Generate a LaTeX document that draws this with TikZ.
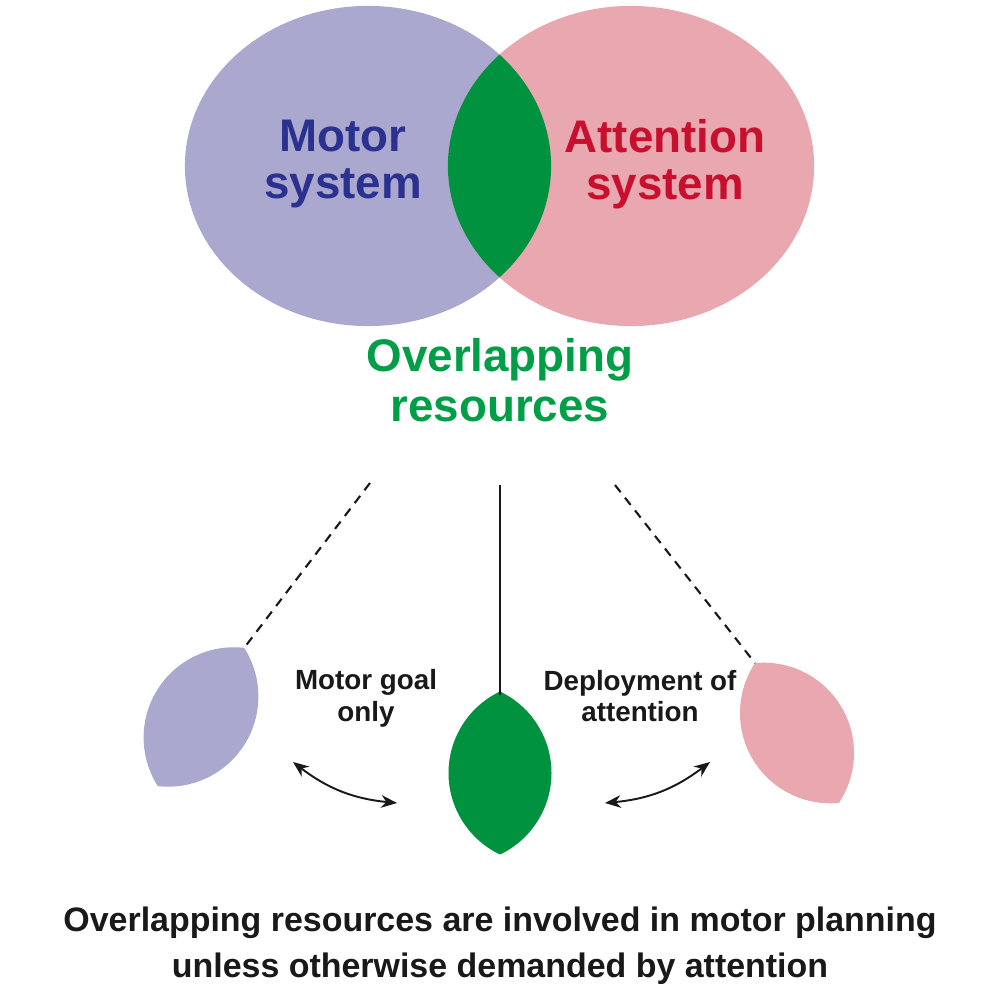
\documentclass[tikz,border=0pt]{standalone}
\usepackage{fontspec}
\setmainfont{Liberation Sans}
\usetikzlibrary{arrows.meta}
\definecolor{vpurple}{RGB}{170,168,206}
\definecolor{vpink}{RGB}{233,168,175}
\definecolor{vgreen}{RGB}{0,146,63}
\definecolor{motorblue}{RGB}{43,49,142}
\definecolor{attred}{RGB}{200,16,46}
\definecolor{ovgreen}{RGB}{0,158,70}
\definecolor{txtblack}{RGB}{25,25,25}
\newcommand{\lensshape}{(0,81.5) .. controls (31.4,66.6) and (51.5,34.8) .. (51.5,0) .. controls (51.5,-34.8) and (31.4,-66.6) .. (0,-81.5) .. controls (-31.4,-66.6) and (-51.5,-34.8) .. (-51.5,0) .. controls (-51.5,34.8) and (-31.4,66.6) .. (0,81.5) -- cycle}
\begin{document}
\begin{tikzpicture}[x=0.01cm,y=0.01cm,
  bigtext/.style={font=\bfseries\fontsize{13}{13.2}\selectfont, align=center, inner sep=0pt},
  smalltext/.style={font=\bfseries\fontsize{7.9}{9}\selectfont, align=center, inner sep=0pt, text=txtblack},
  bottomtext/.style={font=\bfseries\fontsize{9.65}{13}\selectfont, align=center, inner sep=0pt, text=txtblack},
  dashline/.style={draw=txtblack, line width=0.6pt, dash pattern=on 2.6pt off 2pt},
  solidline/.style={draw=txtblack, line width=0.6pt},
  swaparrow/.style={draw=txtblack, line width=0.55pt, {Stealth[length=4.5pt,width=3.6pt]}-{Stealth[length=4.5pt,width=3.6pt]}}
]
\useasboundingbox (0,0) rectangle (1000,1000);
\fill[white] (0,0) rectangle (1000,1000);
% Venn diagram
\fill[vpurple] (368,834) ellipse [x radius=1.83cm, y radius=1.60cm];
\fill[vpink] (631,834) ellipse [x radius=1.83cm, y radius=1.60cm];
\begin{scope}
  \clip (368,834) ellipse [x radius=1.83cm, y radius=1.60cm];
  \fill[vgreen] (631,834) ellipse [x radius=1.83cm, y radius=1.60cm];
\end{scope}
\node[bigtext, text=motorblue] (motor) at (343,836) {Motor\\system};
\node[bigtext, text=attred] (attn) at (665,836) {Attention\\system};
\node[bigtext, text=ovgreen, font=\bfseries\fontsize{13}{14.2}\selectfont] (overlap) at (500,620) {Overlapping\\resources};
% lenses
\begin{scope}[shift={(201,283)}, rotate=-32]
  \fill[vpurple] \lensshape;
  \coordinate (ltop) at (0,81.5);
\end{scope}
\begin{scope}[shift={(500,227)}]
  \fill[vgreen] \lensshape;
  \coordinate (ctop) at (0,81.5);
\end{scope}
\begin{scope}[shift={(797,267)}, rotate=31]
  \fill[vpink] \lensshape;
  \coordinate (rtop) at (0,81.5);
\end{scope}
% connectors from overlapping resources
\coordinate (lstart) at (370,517);
\coordinate (cstart) at (500,515);
\coordinate (rstart) at (615,515);
\draw[dashline] (lstart) -- (ltop);
\draw[solidline] (cstart) -- ([yshift=-1pt]ctop);
\draw[dashline] (rstart) -- (rtop);
% labels
\node[smalltext] (goal) at (366,302) {Motor goal\\only};
\node[smalltext] (deploy) at (640,304) {Deployment of\\attention};
% arrows
\coordinate (a1s) at (293,238);
\coordinate (a1e) at (397,197);
\coordinate (a2s) at (605,197);
\coordinate (a2e) at (710,238);
\draw[swaparrow] (a1s) to[bend right=16] (a1e);
\draw[swaparrow] (a2s) to[bend right=16] (a2e);
% bottom text
\node[bottomtext] (caption) at (500,54) {Overlapping resources are involved in motor planning\\unless otherwise demanded by attention};
\end{tikzpicture}
\end{document}
